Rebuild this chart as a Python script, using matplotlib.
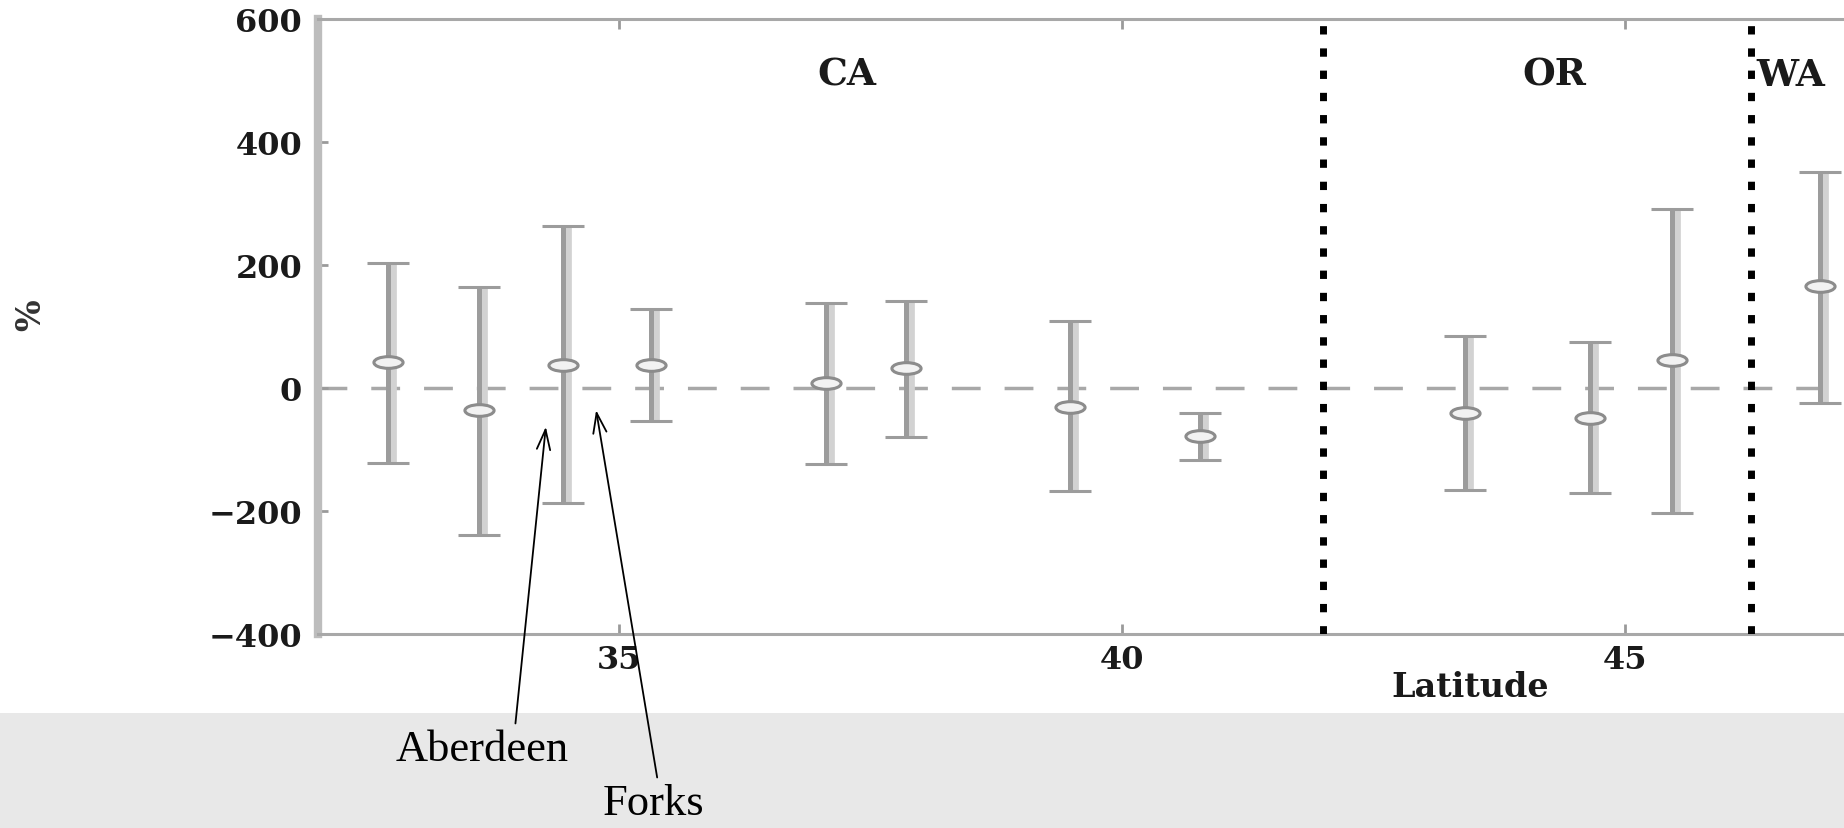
import numpy as np
import matplotlib
matplotlib.use("Agg")
import matplotlib.pyplot as plt
import matplotlib.transforms as mtransforms
from matplotlib.path import Path
from matplotlib.patches import Rectangle

# station data (latitude, mean %, upper, lower)
lat = [32.70, 33.61, 34.44, 35.32, 37.06, 37.85, 39.48, 40.77, 43.41, 44.65, 45.47, 46.94]
mean = [42, -36, 38, 38, 8, 33, -31, -78, -40, -48, 46, 166]
upper = [203, 164, 264, 128, 138, 142, 109, -40, 84, 75, 291, 352]
lower = [-122, -239, -187, -54, -124, -80, -168, -117, -166, -170, -203, -25]

state_borders = [42.0, 46.25]
state_names = ["CA", "OR", "WA"]
state_label_x = [37.26, 44.3, 46.3]

yticks = [600, 400, 200, 0, -200, -400]
xticks = [35, 40, 45]

fig = plt.figure(figsize=(18.44, 8.29), dpi=100)
fig.patch.set_facecolor("white")
# grey caption band at the bottom
fig.patches.append(Rectangle((0, 0), 1, 115 / 829, transform=fig.transFigure,
                             facecolor="#e8e8e8", edgecolor="none", zorder=-5))

ax = fig.add_axes([317.5 / 1844, 1 - 635 / 829, 1710 / 1844, 615 / 829])
ax.set_xlim(32, 49)
ax.set_ylim(-400, 600)

lo_err = np.array(mean) - np.array(lower)
hi_err = np.array(upper) - np.array(mean)

# light shadow band next to each bar
shift = mtransforms.offset_copy(ax.transData, fig=fig, x=4, y=0, units="dots")
for x, lo, hi in zip(lat, lower, upper):
    ax.plot([x, x], [lo, hi], color="#d2d2d2", lw=7, solid_capstyle="butt",
            transform=shift, zorder=2)

ellipse = Path.unit_circle().transformed(mtransforms.Affine2D().scale(1.0, 0.4))
ax.errorbar(lat, mean, yerr=[lo_err, hi_err], fmt="none", ecolor="#9c9c9c",
            elinewidth=3.6, capsize=15, capthick=2.2, zorder=3)
ax.plot(lat, mean, linestyle="none", marker=ellipse, markersize=21,
        markerfacecolor="#f2f2f2", markeredgecolor="#8c8c8c", markeredgewidth=2.2,
        zorder=4)

ax.axhline(0, color="#a8a8a8", lw=2.5, linestyle=(0, (8.3, 6.9)), zorder=1)
for b in state_borders:
    ax.axvline(b, color="black", lw=5, linestyle=(0, (1.2, 2.0)), zorder=5)

for name, x in zip(state_names, state_label_x):
    ax.text(x, 510, name, ha="center" if name != "WA" else "left", va="center",
            fontsize=27, fontweight="bold", family="DejaVu Serif", color="#1a1a1a")

ax.set_yticks(yticks)
ax.set_yticklabels(["%d" % t if t >= 0 else "\u2212%d" % -t for t in yticks])
ax.set_xticks(xticks)
ax.tick_params(axis="both", direction="in", colors="#9a9a9a", length=7, width=2,
               labelsize=23, labelcolor="#1a1a1a")
ax.tick_params(axis="x", top=True, pad=7)
ax.tick_params(axis="y", pad=11)
for lab in ax.get_xticklabels() + ax.get_yticklabels():
    lab.set_family("DejaVu Serif")
    lab.set_fontweight("bold")

ax.spines["left"].set_color("#bdbdbd")
ax.spines["left"].set_linewidth(6)
for s in ["top", "bottom", "right"]:
    ax.spines[s].set_color("#a8a8a8")
    ax.spines[s].set_linewidth(2.2)

ax.set_xlabel("Latitude", fontsize=24, fontweight="bold", family="DejaVu Serif",
              color="#1a1a1a")
ax.xaxis.set_label_coords((1470 - 317.5) / 1710, -36 / 615)
ax.set_ylabel("%", fontsize=24, fontweight="bold", family="DejaVu Serif",
              color="#333333")
ax.yaxis.set_label_coords(-(317.5 - 47) / 1710, 0.52)

arrow = dict(arrowstyle="->,head_length=0.45,head_width=0.15", color="black", lw=1.3,
             shrinkA=2, shrinkB=0)
ax.annotate("Aberdeen", xy=(34.27, -63), xytext=(482, 79), textcoords="figure pixels",
            ha="center", va="center", fontsize=32, family="Liberation Serif",
            arrowprops=dict(arrow, relpos=(0.69, 1.0)), annotation_clip=False)
ax.annotate("Forks", xy=(34.77, -36), xytext=(653, 25), textcoords="figure pixels",
            ha="center", va="center", fontsize=32, family="Liberation Serif",
            arrowprops=dict(arrow, relpos=(0.55, 1.0)), annotation_clip=False)

fig.savefig("out.png", dpi=100)
